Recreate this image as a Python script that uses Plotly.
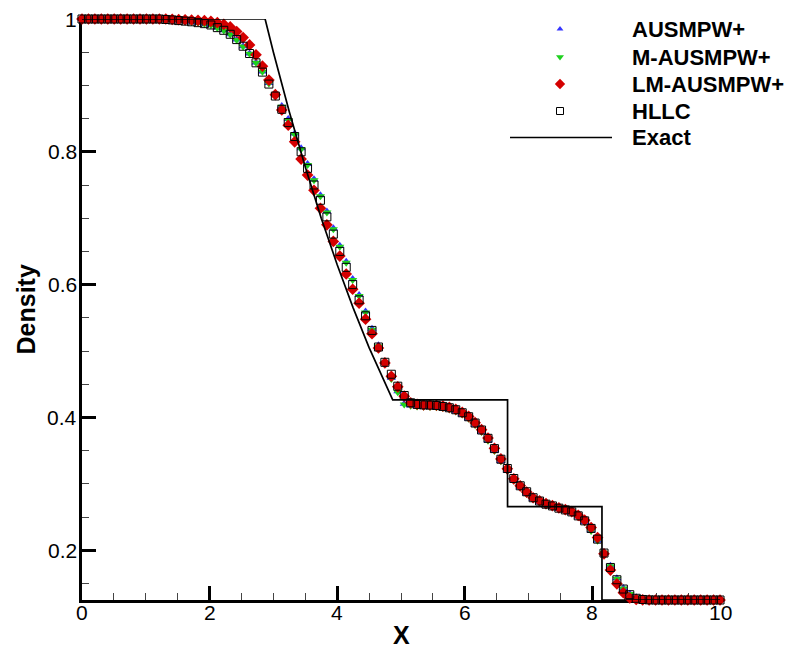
import numpy as np
import plotly.graph_objects as go

# Grid of 100 cells on [0, 10]
x_cells = np.linspace(0.0, 10.0, 100)

rho_ausmpw = [
    1.0, 1.0, 1.0, 1.0, 1.0, 1.0, 1.0, 1.0, 1.0, 1.0, 1.0, 1.0, 1.0, 1.0, 1.0,
    0.9977, 0.9968, 0.9958, 0.9945, 0.9928, 0.9908, 0.987, 0.983, 0.977, 0.969,
    0.959, 0.948, 0.9345, 0.921, 0.9035, 0.886,
    0.869, 0.8495, 0.8275, 0.8055, 0.7815, 0.7585, 0.7345, 0.710, 0.685, 0.6585,
    0.6345, 0.6085, 0.5845, 0.5595, 0.5335, 0.5085, 0.4835, 0.4595, 0.4395, 0.4205, 0.418,
    0.4168, 0.4162, 0.416, 0.4154, 0.4142, 0.4122, 0.4092, 0.4047, 0.3982, 0.3888,
    0.3783, 0.3653, 0.3498, 0.3343, 0.3198, 0.3053, 0.2948, 0.2853,
    0.2772, 0.2722, 0.2677, 0.2652, 0.2622, 0.2597, 0.2567, 0.2508, 0.2424, 0.2295,
    0.2146, 0.1966, 0.1766, 0.1576, 0.1429, 0.1343, 0.1287, 0.1262, 0.1254,
    0.125, 0.125, 0.125, 0.125, 0.125, 0.125, 0.125, 0.125, 0.125, 0.125, 0.125,
]

rho_m_ausmpw = [
    1.0, 1.0, 1.0, 1.0, 1.0, 1.0, 1.0, 1.0, 1.0, 1.0, 1.0, 1.0, 1.0, 1.0, 1.0,
    0.9975, 0.9966, 0.9955, 0.9942, 0.9925, 0.9905, 0.9865, 0.9825, 0.9765, 0.9685,
    0.9585, 0.9475, 0.934, 0.9205, 0.903, 0.8855,
    0.868, 0.848, 0.826, 0.804, 0.780, 0.757, 0.733, 0.7085, 0.6835, 0.657,
    0.633, 0.607, 0.583, 0.558, 0.532, 0.507, 0.482, 0.458, 0.438, 0.4195, 0.4175,
    0.4165, 0.416, 0.4158, 0.4152, 0.414, 0.412, 0.409, 0.4045, 0.398, 0.3885,
    0.378, 0.365, 0.3495, 0.334, 0.3195, 0.305, 0.2945, 0.285,
    0.277, 0.272, 0.2675, 0.265, 0.262, 0.2595, 0.2565, 0.2505, 0.242, 0.229,
    0.2141, 0.196, 0.176, 0.157, 0.1425, 0.134, 0.1285, 0.126, 0.1253,
    0.125, 0.125, 0.125, 0.125, 0.125, 0.125, 0.125, 0.125, 0.125, 0.125, 0.125,
]

rho_lm_ausmpw = [
    1.0, 1.0, 1.0, 1.0, 1.0, 1.0, 1.0, 1.0, 1.0, 1.0, 1.0, 1.0, 1.0, 1.0, 0.9995,
    0.999, 0.9988, 0.9985, 0.998, 0.9975, 0.9965, 0.9945, 0.992, 0.988, 0.981,
    0.972, 0.961, 0.946, 0.929, 0.908, 0.886,
    0.863, 0.840, 0.815, 0.789, 0.765, 0.742, 0.715, 0.690, 0.665, 0.643,
    0.616, 0.593, 0.572, 0.548, 0.526, 0.5045, 0.482, 0.462, 0.446, 0.432, 0.422,
    0.4198, 0.419, 0.4188, 0.4183, 0.417, 0.415, 0.412, 0.4075, 0.4015, 0.392,
    0.3815, 0.369, 0.3535, 0.3375, 0.3225, 0.3075, 0.297, 0.2875,
    0.279, 0.2745, 0.270, 0.267, 0.2637, 0.261, 0.258, 0.2525, 0.2452, 0.234,
    0.219, 0.1946, 0.170, 0.1494, 0.136, 0.128, 0.1258, 0.1252, 0.125,
    0.125, 0.125, 0.125, 0.125, 0.125, 0.125, 0.125, 0.125, 0.125, 0.125, 0.125,
]

rho_hllc = [
    1.0, 1.0, 1.0, 1.0, 1.0, 1.0, 1.0, 1.0, 1.0, 1.0, 1.0, 1.0, 1.0, 0.9993, 0.9986,
    0.9976, 0.9968, 0.9958, 0.9945, 0.993, 0.991, 0.987, 0.983, 0.977, 0.969,
    0.959, 0.948, 0.934, 0.920, 0.902, 0.884,
    0.864, 0.844, 0.823, 0.800, 0.775, 0.750, 0.727, 0.702, 0.676, 0.650,
    0.626, 0.600, 0.577, 0.553, 0.531, 0.506, 0.483, 0.465, 0.447, 0.433, 0.422,
    0.4196, 0.4188, 0.4185, 0.418, 0.4165, 0.4145, 0.4115, 0.407, 0.401, 0.3915,
    0.381, 0.3685, 0.353, 0.337, 0.323, 0.308, 0.297, 0.288,
    0.279, 0.274, 0.2693, 0.2667, 0.2633, 0.2607, 0.2577, 0.2517, 0.2442, 0.2328,
    0.2167, 0.1957, 0.174, 0.1555, 0.1415, 0.133, 0.1276, 0.1258, 0.1252,
    0.125, 0.125, 0.125, 0.125, 0.125, 0.125, 0.125, 0.125, 0.125, 0.125, 0.125,
]

# Exact Riemann solution: left state, rarefaction fan, plateaus, contact, shock
x_exact = [0.0, 2.87, 3.0, 3.25, 3.5, 3.75, 4.0, 4.25, 4.5, 4.75, 4.87,
           6.67, 6.67, 8.15, 8.15, 10.0]
rho_exact = [1.0, 1.0, 0.950, 0.860, 0.777, 0.700, 0.630, 0.565, 0.505, 0.451, 0.4263,
             0.4263, 0.2656, 0.2656, 0.125, 0.125]

x_ticks = [0, 2, 4, 6, 8, 10]
x_tick_text = ["0", "2", "4", "6", "8", "10"]
y_ticks = [0.2, 0.4, 0.6, 0.8, 1.0]
y_tick_text = ["0.2", "0.4", "0.6", "0.8", "1"]

series = [
    ("AUSMPW+", rho_ausmpw, dict(symbol="triangle-up", size=8, color="#3535ff")),
    ("M-AUSMPW+", rho_m_ausmpw, dict(symbol="triangle-down", size=8, color="#1fd11f")),
    ("LM-AUSMPW+", rho_lm_ausmpw, dict(symbol="diamond", size=9, color="#d40000")),
    ("HLLC", rho_hllc, dict(symbol="square-open", size=8, color="black", line=dict(width=1, color="black"))),
]
legend_sizes = [6, 7, 8, 7]

FONT = "Arial, Liberation Sans, Helvetica, sans-serif"

fig = go.Figure()
for name, rho, mk in series:
    fig.add_trace(go.Scatter(x=x_cells, y=rho, mode="markers", name=name,
                             marker=mk, cliponaxis=False, showlegend=False))
fig.add_trace(go.Scatter(x=x_exact, y=rho_exact, mode="lines", name="Exact",
                         line=dict(color="black", width=1.7), cliponaxis=False,
                         showlegend=False))

# Legend drawn on an overlay axis measured in plot pixels
leg_rows = [29, 57, 84, 111, 137.5]
leg_marker_x = 560
leg_text_x = 630
for (name, _, mk), yrow, sz in zip(series, leg_rows[:4], legend_sizes):
    fig.add_trace(go.Scatter(x=[leg_marker_x], y=[yrow], mode="markers", marker={**mk, "size": sz},
                             xaxis="x2", yaxis="y2", showlegend=False, hoverinfo="skip",
                             cliponaxis=False))
fig.add_trace(go.Scatter(x=[510, 612], y=[leg_rows[4], leg_rows[4]], mode="lines",
                         line=dict(color="black", width=1.7), xaxis="x2", yaxis="y2",
                         showlegend=False, hoverinfo="skip", cliponaxis=False))
for label, yrow in zip(["AUSMPW+", "M-AUSMPW+", "LM-AUSMPW+", "HLLC", "Exact"], leg_rows):
    fig.add_annotation(x=leg_text_x, y=yrow, xref="x2", yref="y2", text=f"<b>{label}</b>",
                       showarrow=False, xanchor="left", yanchor="middle",
                       font=dict(family=FONT, size=22, color="black"))

# Tick labels and axis titles placed as text next to the axes
tick_font = dict(family=FONT, size=21, color="black")
for xv, txt in zip(x_ticks, x_tick_text):
    fig.add_annotation(x=xv, xref="x", y=0, yref="paper", text=txt, showarrow=False,
                       xanchor="center", yanchor="middle", yshift=-12, font=tick_font)
for yv, txt in zip(y_ticks, y_tick_text):
    fig.add_annotation(x=0, xref="paper", y=yv, yref="y", text=txt, showarrow=False,
                       xanchor="right", yanchor="middle", xshift=-3, font=tick_font)
fig.add_annotation(x=0.5, xref="paper", y=0, yref="paper", text="<b>X</b>", showarrow=False,
                   xanchor="center", yanchor="middle", yshift=-35, borderpad=0,
                   font=dict(family=FONT, size=25, color="black"))
fig.add_annotation(x=0, xref="paper", y=0.5, yref="paper", text="<b>Density</b>", showarrow=False,
                   textangle=-90, xanchor="center", yanchor="middle", xshift=-57,
                   font=dict(family=FONT, size=25, color="black"))

axis_common = dict(
    showgrid=False, zeroline=False, showline=True, linewidth=3, linecolor="black",
    ticks="inside", tickcolor="black", tickwidth=3, layer="below traces",
    automargin=False, showticklabels=False,
)

fig.update_layout(
    width=786, height=650,
    margin=dict(l=82, r=66, t=19, b=50),
    plot_bgcolor="white", paper_bgcolor="white",
    xaxis=dict(range=[0, 10], tickvals=x_ticks, ticklen=14,
               minor=dict(dtick=0.5, ticks="inside", ticklen=7, tickwidth=1, tickcolor="#444"),
               **axis_common),
    yaxis=dict(range=[0.125, 1.0], tickvals=y_ticks, ticklen=14,
               minor=dict(dtick=0.05, tick0=0, ticks="inside", ticklen=7, tickwidth=1, tickcolor="#444"),
               **axis_common),
    xaxis2=dict(overlaying="x", range=[82, 720], visible=False, anchor="y2"),
    yaxis2=dict(overlaying="y", range=[600, 19], visible=False, anchor="x2"),
)

fig.write_html("out.html")
